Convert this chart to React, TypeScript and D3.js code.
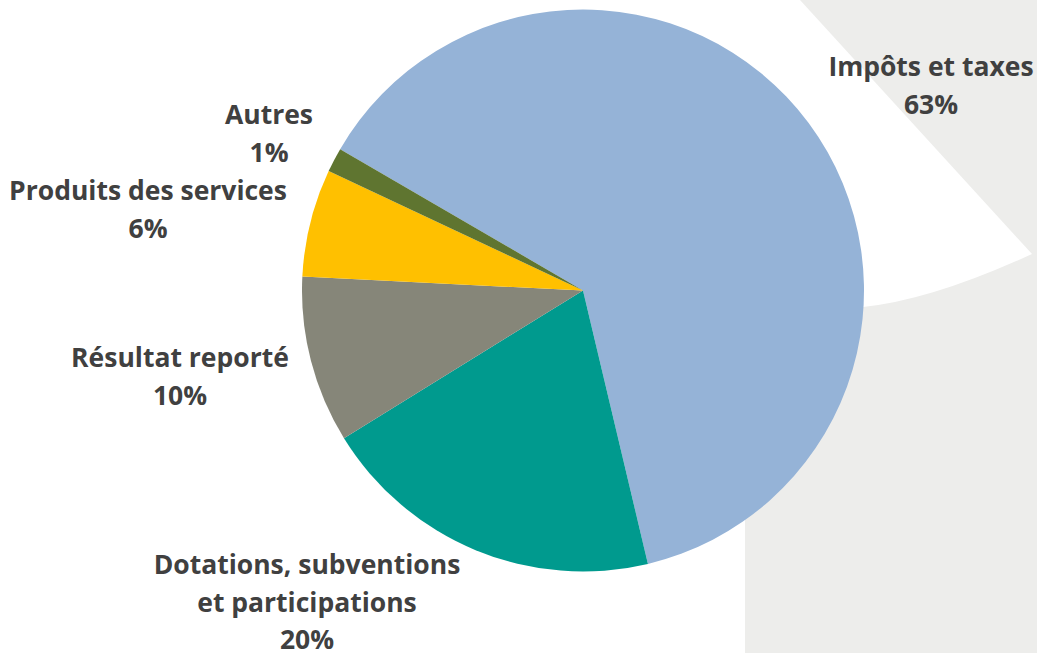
import React from "react";
import * as d3 from "d3";

const categories = [
  "Impôts et taxes",
  "Dotations, subventions et participations",
  "Résultat reporté",
  "Produits des services",
  "Autres",
];
const shares = [62.9, 19.9, 9.6, 6.2, 1.4];
const percentLabels = ["63%", "20%", "10%", "6%", "1%"];

// label lines as they wrap in the picture
const labelLines = [
  ["Impôts et taxes"],
  ["Dotations, subventions", "et participations"],
  ["Résultat reporté"],
  ["Produits des services"],
  ["Autres"],
];

const colors = ["#95b3d7", "#009a8e", "#868679", "#ffc000", "#5f7530"];

// where each label block sits (x = centre, y = first baseline)
const labelPos = [
  { x: 931, y: 76 },
  { x: 307, y: 574 },
  { x: 180, y: 367 },
  { x: 148, y: 200 },
  { x: 269, y: 124 },
];

const W = 1037;
const H = 654;
const cx = 583;
const cy = 290.5;
const radius = 281;
const lineGap = 37.5;

export default function App() {
  const start = (-59.8 * Math.PI) / 180;
  const pie = d3
    .pie<number>()
    .sort(null)
    .value((d) => d)
    .startAngle(start)
    .endAngle(start + 2 * Math.PI);
  const arcs = pie(shares);
  const arc = d3.arc<d3.PieArcDatum<number>>().innerRadius(0).outerRadius(radius);

  return (
    <svg
      width={W}
      height={H}
      style={{ position: "absolute", left: 0, top: 0, background: "#ffffff" }}
    >
      {/* grey panel with the white wedge from the slide behind */}
      <rect x={745} y={0} width={W - 745} height={H - 1} fill="#ededeb" />
      <path d="M745,0 L800,0 L1032,254 Q932,300 863,307 L745,307 Z" fill="#ffffff" />

      <g transform={`translate(${cx},${cy})`}>
        {arcs.map((a, i) => (
          <path key={categories[i]} d={arc(a) || ""} fill={colors[i]} />
        ))}
      </g>

      {labelLines.map((lines, i) => (
        <text
          key={categories[i]}
          textAnchor="middle"
          fontFamily="'Open Sans', sans-serif"
          fontWeight={700}
          fontSize={26.5}
          fill="#404040"
        >
          {[...lines, percentLabels[i]].map((t, j) => (
            <tspan key={j} x={labelPos[i].x} y={labelPos[i].y + j * lineGap}>
              {t}
            </tspan>
          ))}
        </text>
      ))}
    </svg>
  );
}
